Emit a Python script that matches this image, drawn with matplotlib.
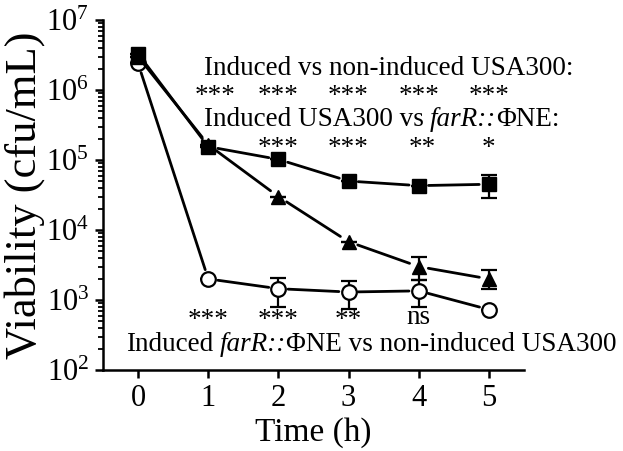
import matplotlib
matplotlib.use("Agg")
import matplotlib.pyplot as plt
from matplotlib.ticker import LogLocator, FixedLocator

plt.rcParams['font.family'] = ['Liberation Serif', 'DejaVu Serif']
plt.rcParams['mathtext.fontset'] = 'custom'
plt.rcParams['mathtext.rm'] = 'Liberation Serif'
plt.rcParams['mathtext.it'] = 'Liberation Serif:italic'

# ---- data ----
time_h = [0, 1, 2, 3, 4, 5]
noninduced_usa300 = [3.3e6, 1.55e5, 1.02e5, 5.0e4, 4.3e4, 4.5e4]
noninduced_err_lo = [0, 0, 0, 0, 0, 1.6e4]
noninduced_err_hi = [0, 0, 0, 0, 0, 1.7e4]
induced_usa300 = [3.0e6, 1.65e5, 3.0e4, 6.8e3, 3.0e3, 2.0e3]
induced_err_lo = [0, 0, 0, 0, 1.05e3, 0.55e3]
induced_err_hi = [0, 0, 0, 0, 1.1e3, 0.7e3]
induced_farr = [2.4e6, 2.0e3, 1.45e3, 1.3e3, 1.35e3, 7.3e2]
farr_err_lo = [0, 0, 0.65e3, 0.56e3, 0.56e3, 0]
farr_err_hi = [0, 0, 0.62e3, 0.56e3, 0.6e3, 0]

row1_x = [1.1, 2, 3, 4, 5]
row1_labels = ['***', '***', '***', '***', '***']
row2_x = [2, 3, 4.05, 5]
row2_labels = ['***', '***', '**', '*']
row3_x = [1, 2, 3, 4]
row3_labels = ['***', '***', '**', 'ns']

fig = plt.figure(figsize=(6.23, 4.51), dpi=100)
ax = fig.add_axes([0.1653, 0.1796, 0.6758, 0.7761])
ax.set_yscale('log')
ax.set_ylim(1e2, 1e7)
ax.set_xlim(-0.5, 5.5)

LW = 2.0

def connect(xs, ys, z):
    for i in range(len(xs) - 1):
        ax.annotate('', xy=(xs[i + 1], ys[i + 1]), xytext=(xs[i], ys[i]),
                    xycoords='data', textcoords='data',
                    arrowprops=dict(arrowstyle='-', lw=LW, color='black',
                                    shrinkA=7, shrinkB=7), zorder=z)

# open circles: induced farR::PhiNE
connect(time_h, induced_farr, 2)
ax.errorbar(time_h, induced_farr, yerr=[farr_err_lo, farr_err_hi], fmt='none',
            ecolor='black', elinewidth=1.6, capsize=6, capthick=1.6, zorder=3)
ax.plot(time_h, induced_farr, linestyle='none', marker='o', markersize=10.5,
        markerfacecolor='white', markeredgecolor='black', markeredgewidth=1.6, zorder=4)

# triangles: induced USA300
connect(time_h, induced_usa300, 5)
ax.errorbar(time_h, induced_usa300, yerr=[induced_err_lo, induced_err_hi], fmt='none',
            ecolor='black', elinewidth=1.6, capsize=6, capthick=1.6, zorder=6)
ax.plot(time_h, induced_usa300, linestyle='none', marker='^', markersize=10,
        color='black', zorder=7)

# squares: non-induced USA300
connect(time_h, noninduced_usa300, 8)
ax.errorbar(time_h, noninduced_usa300, yerr=[noninduced_err_lo, noninduced_err_hi], fmt='none',
            ecolor='black', elinewidth=1.6, capsize=6, capthick=1.6, zorder=9)
ax.plot(time_h, noninduced_usa300, linestyle='none', marker='s', markersize=10.5,
        color='black', zorder=10)

# axes styling
for s in ['top', 'right']:
    ax.spines[s].set_visible(False)
for s in ['left', 'bottom']:
    ax.spines[s].set_linewidth(1.8)
ax.xaxis.set_major_locator(FixedLocator(time_h))
ax.set_xticklabels([str(t) for t in time_h])
ax.yaxis.set_major_locator(LogLocator(base=10, numticks=10))
ax.yaxis.set_minor_locator(LogLocator(base=10, subs=range(2, 10), numticks=20))
ax.tick_params(axis='both', which='major', direction='out', length=6, width=1.8,
               labelsize=22, pad=4)
ax.tick_params(axis='y', which='minor', direction='out', length=3.5, width=1.3)
ax.tick_params(axis='x', which='minor', length=0)

ax.set_xlabel('Time (h)', fontsize=24, labelpad=3)
ax.set_ylabel('Viability (cfu/mL)', fontsize=32, labelpad=1)

FS = 19.5

ax.text(0.94, 10**6.214, 'Induced vs non-induced USA300:', fontsize=FS,
        ha='left', va='baseline', zorder=20)
for xv, lab in zip(row1_x, row1_labels):
    ax.text(xv, 10**5.814, lab, fontsize=FS, ha='center', va='baseline', zorder=20)

t1 = ax.text(0.94, 10**5.486, 'Induced USA300 vs', fontsize=FS, ha='left', va='baseline', zorder=20)
t2 = ax.annotate('farR::', xy=(1, 0), xycoords=t1, xytext=(4.5, 0), textcoords='offset points',
                 fontsize=FS, style='italic', ha='left', va='bottom', zorder=20)
ax.annotate('\u03a6NE:', xy=(1, 0), xycoords=t2, xytext=(0, 0), textcoords='offset points',
            fontsize=FS, ha='left', va='bottom', zorder=20)
for xv, lab in zip(row2_x, row2_labels):
    ax.text(xv, 10**5.071, lab, fontsize=FS, ha='center', va='baseline', zorder=20)

for xv, lab in zip(row3_x, row3_labels):
    yv = 10**2.66 if lab == 'ns' else 10**2.61
    ax.text(xv, yv, lab, fontsize=FS, ha='center', va='baseline', zorder=20)
b1 = ax.text(-0.17, 10**2.271, 'Induced', fontsize=FS, ha='left', va='baseline', zorder=20)
b2 = ax.annotate('farR::', xy=(1, 0), xycoords=b1, xytext=(4.5, 0), textcoords='offset points',
                 fontsize=FS, style='italic', ha='left', va='bottom', zorder=20)
ax.annotate('\u03a6NE vs non-induced USA300', xy=(1, 0), xycoords=b2, xytext=(0, 0),
            textcoords='offset points', fontsize=FS, ha='left', va='bottom', zorder=20)

fig.savefig('out.png', dpi=100)
